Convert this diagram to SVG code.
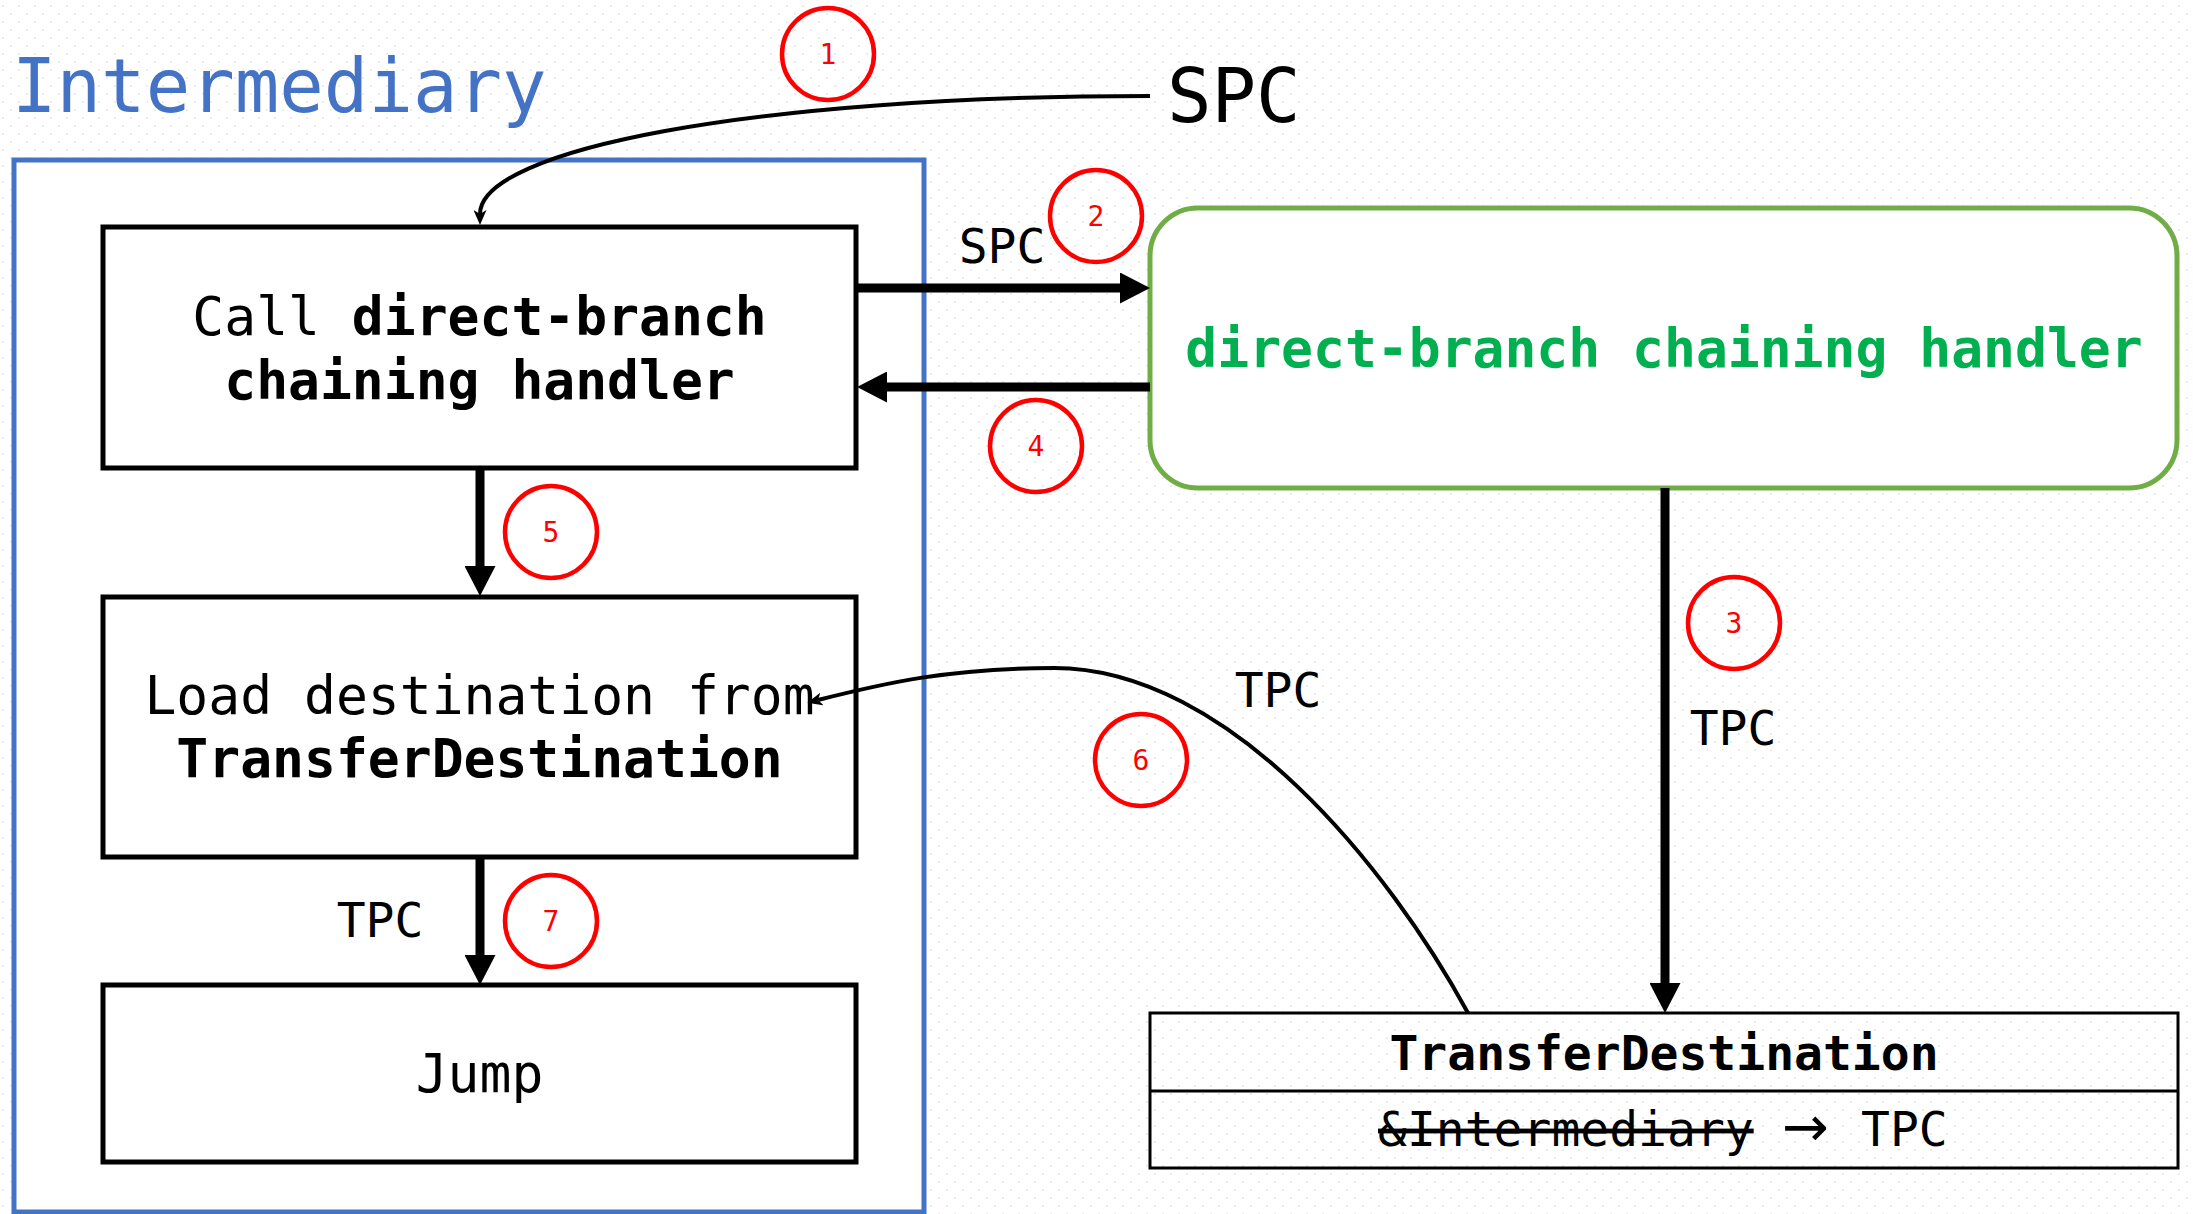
<svg xmlns="http://www.w3.org/2000/svg" width="2193" height="1214" viewBox="0 0 2193 1214">
  <style>
    text { font-family: "DejaVu Sans Mono", "Liberation Mono", monospace; }
    .box { fill: #ffffff; stroke: #000000; stroke-width: 5; }
    .t53 { font-size: 53px; fill: #000000; }
    .lbl { font-size: 48px; fill: #000000; }
    .b { font-weight: bold; }
    .num { font-size: 28px; fill: #ff0000; text-anchor: middle; }
    .badge { fill: none; stroke: #ff0000; stroke-width: 4.5; }
    .thick { fill: none; stroke: #000000; stroke-width: 9; }
    .thin { fill: none; stroke: #000000; stroke-width: 4; }
  </style>
  <defs>
    <pattern id="grid" patternUnits="userSpaceOnUse" width="16" height="16">
      <rect x="2" y="5" width="2" height="2" fill="#ececec"/>
      <rect x="10" y="13" width="2" height="2" fill="#ececec"/>
    </pattern>
    <marker id="block" markerUnits="userSpaceOnUse" viewBox="0 0 30 31" refX="0" refY="15.5" markerWidth="30" markerHeight="31" orient="auto">
      <path d="M0,0 L30,15.5 L0,31 Z" fill="#000000"/>
    </marker>
    <marker id="classic" markerUnits="userSpaceOnUse" viewBox="0 0 15 13" refX="4" refY="6.5" markerWidth="15" markerHeight="13" orient="auto">
      <path d="M0,0 L15,6.5 L0,13 L4,6.5 Z" fill="#000000"/>
    </marker>
  </defs>

  <rect x="0" y="0" width="2193" height="1214" fill="#ffffff"/>
  <rect x="0" y="0" width="2193" height="1214" fill="url(#grid)"/>

  <g id="intermediary">
    <rect x="14" y="160" width="910" height="1052" fill="#ffffff" stroke="#4472c4" stroke-width="5"/>
    <text x="12" y="112" font-size="74" fill="#4472c4">Intermediary</text>
  </g>

  <g id="spc-source">
    <text x="1167" y="122" font-size="74" fill="#000000">SPC</text>
  </g>

  <g id="call-handler">
    <rect class="box" x="103" y="227" width="753" height="241"/>
    <text class="t53" x="479.5" y="335" text-anchor="middle">Call <tspan class="b">direct-branch</tspan></text>
    <text class="t53 b" x="479.5" y="399" text-anchor="middle">chaining handler</text>
  </g>

  <g id="load-destination">
    <rect class="box" x="103" y="597" width="753" height="260"/>
    <text class="t53" x="479.5" y="714" text-anchor="middle">Load destination from</text>
    <text class="t53 b" x="479.5" y="777" text-anchor="middle">TransferDestination</text>
  </g>

  <g id="jump">
    <rect class="box" x="103" y="985" width="753" height="177"/>
    <text class="t53" x="479.5" y="1092" text-anchor="middle">Jump</text>
  </g>

  <g id="chaining-handler">
    <rect x="1150" y="208" width="1027" height="280" rx="48" ry="48" fill="#ffffff" stroke="#70ad47" stroke-width="5"/>
    <text x="1664" y="367" font-size="53" font-weight="bold" fill="#00b050" text-anchor="middle">direct-branch chaining handler</text>
  </g>

  <g id="transfer-destination">
    <rect x="1150" y="1013" width="1028" height="155" fill="none" stroke="#000000" stroke-width="3"/>
    <line x1="1150" y1="1091" x2="2178" y2="1091" stroke="#000000" stroke-width="3"/>
    <text class="lbl b" x="1664" y="1070" text-anchor="middle">TransferDestination</text>
    <text class="lbl" x="1378" y="1146"><tspan text-decoration="line-through">&amp;Intermediary</tspan> <tspan x="1782" font-family="Noto Sans, DejaVu Sans, sans-serif" font-size="56">→</tspan> <tspan x="1861">TPC</tspan></text>
  </g>

  <g id="connectors">
    <path class="thin" d="M1150,96 C 750,96 480,150 480,214" marker-end="url(#classic)"/>
    <line class="thick" x1="856" y1="288" x2="1120" y2="288" marker-end="url(#block)"/>
    <line class="thick" x1="1150" y1="387" x2="887" y2="387" marker-end="url(#block)"/>
    <line class="thick" x1="480" y1="468" x2="480" y2="566" marker-end="url(#block)"/>
    <line class="thick" x1="480" y1="857" x2="480" y2="955" marker-end="url(#block)"/>
    <line class="thick" x1="1665" y1="488" x2="1665" y2="983" marker-end="url(#block)"/>
    <path class="thin" d="M1468,1013 C 1390,870 1230,668 1054,668 C 950,668 885,683 818,700" marker-end="url(#classic)"/>
    <text class="lbl" x="1002" y="263" text-anchor="middle">SPC</text>
    <text class="lbl" x="1733" y="745" text-anchor="middle">TPC</text>
    <text class="lbl" x="1278" y="707" text-anchor="middle">TPC</text>
    <text class="lbl" x="380" y="937" text-anchor="middle">TPC</text>
  </g>

  <g id="step-1"><circle class="badge" cx="828" cy="54" r="46"/><text class="num" x="828" y="64">1</text></g>
  <g id="step-2"><circle class="badge" cx="1096" cy="216" r="46"/><text class="num" x="1096" y="226">2</text></g>
  <g id="step-3"><circle class="badge" cx="1734" cy="623" r="46"/><text class="num" x="1734" y="633">3</text></g>
  <g id="step-4"><circle class="badge" cx="1036" cy="446" r="46"/><text class="num" x="1036" y="456">4</text></g>
  <g id="step-5"><circle class="badge" cx="551" cy="532" r="46"/><text class="num" x="551" y="542">5</text></g>
  <g id="step-6"><circle class="badge" cx="1141" cy="760" r="46"/><text class="num" x="1141" y="770">6</text></g>
  <g id="step-7"><circle class="badge" cx="551" cy="921" r="46"/><text class="num" x="551" y="931">7</text></g>
</svg>
